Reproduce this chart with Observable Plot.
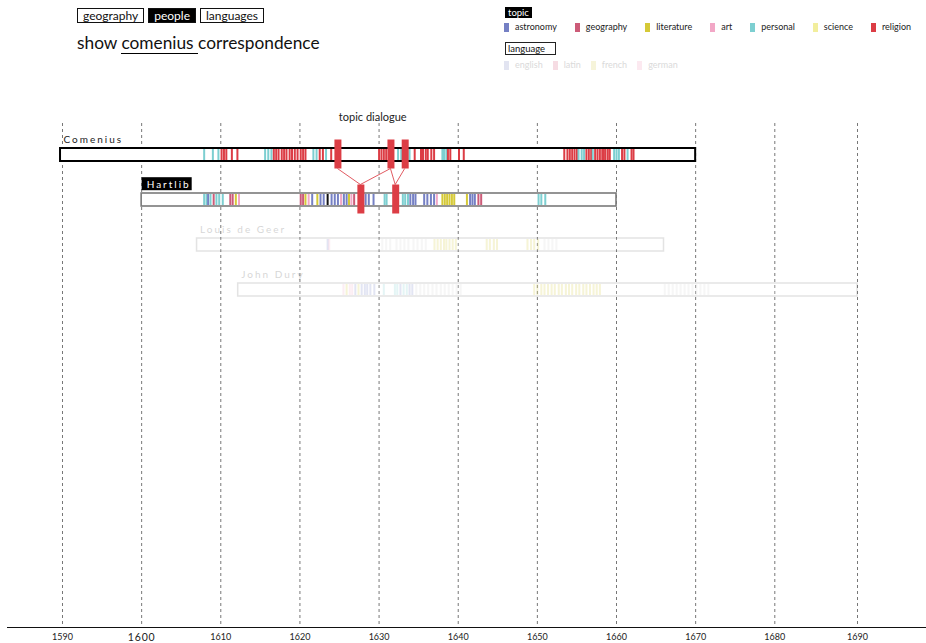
<!DOCTYPE html>
<html>
<head>
<meta charset="utf-8">
<script src="https://cdn.jsdelivr.net/npm/d3@7"></script>
<script src="https://cdn.jsdelivr.net/npm/@observablehq/plot@0.6"></script>
<style>
  body { margin: 0; background: #fff; font-family: Lato, "Open Sans", sans-serif; color: #111; }
  #wrap { position: relative; width: 926px; height: 643px; overflow: hidden; }
  #chart { position: absolute; left: 0; top: 0; }
  #buttons { position: absolute; left: 77px; top: 8px; display: flex; gap: 4px; }
  .btn { box-sizing: border-box; height: 15px; border: 1px solid #111; padding: 0 5px; font-size: 12px; line-height: 13px; color: #111; background: #fff; }
  .btn.on { background: #000; color: #fff; }
  #title { position: absolute; left: 77px; top: 33px; font-size: 17.3px; line-height: 20px; color: #111; white-space: pre; }
  #title .pick { border-bottom: 1.3px solid #000; }
  .hdr { position: absolute; left: 505px; font-size: 9.5px; line-height: 11px; padding: 0 3px; box-sizing: border-box; }
  #topicHdr { top: 7px; height: 11px; background: #000; color: #fff; }
  #langHdr { top: 42px; height: 13px; border: 1px solid #222; color: #111; font-size: 9.5px; width: 51px; padding: 0 2px; line-height: 11px; }
  .legrow { position: absolute; left: 504px; display: flex; gap: 18px; font-size: 9px; line-height: 10px; }
  .legrow .item { display: flex; align-items: center; white-space: nowrap; }
  .legrow .sw { display: inline-block; width: 5px; height: 9px; margin-right: 6px; }
  #topicRow { top: 22px; color: #222; }
  #langRow { top: 60px; gap: 10px; color: #dadada; }
</style>
</head>
<body>
<div id="wrap">
  <div id="chart"></div>
  <div id="buttons"></div>
  <div id="title"></div>
  <div id="topicHdr" class="hdr">topic</div>
  <div id="topicRow" class="legrow"></div>
  <div id="langHdr" class="hdr">language</div>
  <div id="langRow" class="legrow"></div>
</div>
<script>
// ---------- data ----------
const views = ["geography", "people", "languages"];
const activeView = "people";
const titleParts = ["show ", "comenius", " correspondence"];

const topics = ["astronomy", "geography", "literature", "art", "personal", "science", "religion"];
const topicColors = ["#7580c4", "#cc5b78", "#d5c937", "#f2a7c6", "#7dcfd1", "#f2ee9d", "#dc3d45"];
const languages = ["english", "latin", "french", "german"];
const languageColors = ["#e2e4f1", "#f6dce3", "#f6f4da", "#fce9f0"];

const people = ["Comenius", "Hartlib", "Louis de Geer", "John Dury"];
const spanStart = [1589.75, 1600, 1607, 1612.2];
const spanEnd = [1670, 1660, 1666, 1690];
const focusPeople = ["Comenius", "Hartlib"];

const decades = [1590, 1600, 1610, 1620, 1630, 1640, 1650, 1660, 1670, 1680, 1690];

const comeniusLetters = [
  [1607.9,"personal"],[1609.0,"personal"],[1609.7,"personal"],
  [1610.1,"religion"],[1610.4,"religion"],[1610.7,"religion"],[1611.4,"religion"],[1612.1,"religion"],
  [1615.6,"personal"],[1616.0,"personal"],[1616.4,"personal"],
  [1616.7,"religion"],[1617.0,"religion"],[1617.3,"religion"],[1617.7,"religion"],[1618.0,"religion"],
  [1618.3,"religion"],[1618.7,"religion"],[1619.0,"religion"],[1619.35,"religion"],[1619.7,"religion"],
  [1620.1,"religion"],[1620.4,"religion"],[1620.7,"religion"],
  [1621.7,"personal"],[1622.1,"personal"],[1622.5,"religion"],[1622.9,"religion"],[1623.3,"personal"],[1623.95,"religion"],
  [1630.0,"religion"],[1630.3,"religion"],[1630.6,"religion"],[1630.9,"religion"],
  [1632.4,"personal"],[1632.8,"personal"],[1633.85,"personal"],
  [1634.5,"religion"],[1635.3,"religion"],[1635.55,"religion"],[1635.9,"religion"],[1636.15,"religion"],[1636.6,"religion"],[1636.95,"religion"],
  [1638.0,"personal"],[1638.2,"personal"],[1638.5,"personal"],
  [1638.7,"religion"],[1639.0,"religion"],[1640.1,"religion"],[1640.7,"religion"],
  [1653.4,"religion"],[1653.8,"religion"],[1654.1,"religion"],[1654.4,"religion"],[1654.7,"religion"],[1655.0,"religion"],
  [1655.2,"personal"],[1655.6,"personal"],[1655.9,"personal"],
  [1656.2,"religion"],[1656.5,"religion"],[1656.8,"religion"],[1657.0,"personal"],
  [1657.3,"religion"],[1657.6,"religion"],[1657.9,"religion"],[1658.2,"religion"],[1658.4,"religion"],
  [1658.6,"religion"],[1658.9,"religion"],[1659.15,"religion"],
  [1659.7,"personal"],[1660.0,"personal"],[1660.3,"personal"],
  [1660.7,"religion"],[1661.0,"religion"],[1661.4,"personal"],[1661.9,"religion"],[1662.15,"religion"]
];

const hartlibLetters = [
  [1607.9,"personal"],[1608.2,"personal"],[1608.4,"astronomy"],[1608.7,"personal"],[1609.1,"geography"],
  [1609.45,"personal"],[1609.8,"personal"],[1610.25,"personal"],
  [1611.2,"geography"],[1611.5,"geography"],[1611.9,"literature"],[1612.3,"art"],
  [1620.1,"geography"],[1620.4,"geography"],[1620.7,"literature"],[1621.1,"art"],[1621.55,"astronomy"],
  [1622.2,"literature"],[1622.6,"astronomy"],[1623.0,"astronomy"],[1623.5,"other"],
  [1624.0,"astronomy"],[1624.4,"astronomy"],[1624.8,"astronomy"],[1625.2,"art"],[1625.55,"astronomy"],
  [1625.9,"astronomy"],[1626.2,"literature"],[1626.5,"art"],[1626.85,"geography"],
  [1628.3,"astronomy"],[1628.7,"astronomy"],[1629.3,"astronomy"],[1630.7,"personal"],[1630.95,"personal"],
  [1633.0,"personal"],[1633.3,"personal"],[1633.65,"personal"],
  [1633.95,"astronomy"],[1634.3,"astronomy"],[1634.6,"astronomy"],
  [1635.7,"astronomy"],[1636.1,"astronomy"],[1636.55,"astronomy"],[1636.95,"astronomy"],[1637.3,"art"],
  [1638.0,"literature"],[1638.3,"literature"],[1638.6,"literature"],[1638.9,"literature"],[1639.2,"literature"],[1639.5,"literature"],
  [1641.1,"literature"],[1641.5,"astronomy"],[1641.8,"astronomy"],[1642.1,"astronomy"],
  [1642.55,"geography"],[1642.9,"geography"],
  [1650.15,"personal"],[1650.5,"personal"],[1651.0,"personal"]
];

const geerLetters = [
  [1623.5,"astronomy"],[1623.7,"art"],
  [1630.4,"blank"],[1630.9,"blank"],[1631.4,"blank"],[1632.2,"blank"],[1632.7,"blank"],[1633.2,"blank"],
  [1633.7,"blank"],[1634.35,"blank"],[1634.85,"blank"],[1635.4,"blank"],[1635.9,"blank"],
  [1637.0,"literature"],[1637.4,"literature"],[1637.8,"literature"],[1638.2,"literature"],
  [1638.5,"literature"],[1638.9,"literature"],[1639.3,"literature"],[1639.7,"literature"],
  [1643.6,"literature"],[1644.0,"literature"],[1644.5,"literature"],[1644.9,"literature"],
  [1648.75,"literature"],[1649.2,"literature"],[1649.6,"literature"],[1650.1,"literature"],
  [1650.9,"blank"],[1651.4,"blank"],[1651.9,"blank"],[1652.4,"blank"]
];

const duryLetters = [
  [1625.5,"art"],[1625.9,"literature"],[1626.3,"art"],[1626.6,"art"],[1627.0,"astronomy"],[1627.4,"literature"],
  [1627.8,"astronomy"],[1628.2,"astronomy"],[1628.5,"astronomy"],[1628.9,"astronomy"],[1629.4,"astronomy"],
  [1630.6,"personal"],[1632.0,"personal"],[1632.3,"personal"],[1632.7,"astronomy"],[1633.1,"personal"],
  [1633.5,"personal"],[1633.85,"astronomy"],[1634.2,"astronomy"],
  [1634.7,"blank"],[1635.2,"blank"],[1635.7,"blank"],[1636.2,"blank"],[1636.75,"blank"],[1637.25,"blank"],
  [1637.8,"blank"],[1638.3,"blank"],[1638.8,"blank"],[1639.3,"blank"],[1639.8,"blank"],[1640.3,"blank"],
  [1649.6,"literature"],[1650.0,"literature"],[1650.5,"literature"],[1650.9,"literature"],[1651.35,"literature"],
  [1651.8,"literature"],[1652.2,"literature"],[1652.7,"literature"],[1653.1,"literature"],[1653.6,"literature"],
  [1654.0,"literature"],[1654.4,"literature"],[1654.9,"literature"],[1655.3,"literature"],[1655.8,"literature"],
  [1656.2,"literature"],[1656.65,"literature"],[1657.1,"literature"],[1657.5,"literature"],[1657.9,"literature"],
  [1666.1,"blank"],[1666.6,"blank"],[1667.1,"blank"],[1667.6,"blank"],[1668.1,"blank"],[1668.6,"blank"],
  [1669.1,"blank"],[1669.6,"blank"],[1670.1,"blank"],[1670.6,"blank"],[1671.1,"blank"],[1671.6,"blank"]
];

// topic dialogue between Comenius and Hartlib (religion letters)
const dialogueComenius = [1624.8, 1631.5, 1633.3];
const dialogueHartlib = [1627.7, 1632.1];
const dialogueLinks = [[1624.8, 1627.7], [1631.5, 1627.7], [1631.5, 1632.1], [1633.3, 1632.1]];
const dialogueTopic = "religion";
const annotationLabel = "topic dialogue";
const annotationYear = 1629.2;

// ---------- build tables ----------
const lettersByPerson = {"Comenius": comeniusLetters, "Hartlib": hartlibLetters, "Louis de Geer": geerLetters, "John Dury": duryLetters};
const letters = [];
for (const [person, arr] of Object.entries(lettersByPerson))
  for (const [year, topic] of arr) letters.push({person, year, topic, focus: focusPeople.includes(person)});
const rows = people.map((name, i) => ({name, start: spanStart[i], end: spanEnd[i], focus: focusPeople.includes(name)}));
const dialogue = [
  ...dialogueComenius.map(year => ({person: "Comenius", year, topic: dialogueTopic})),
  ...dialogueHartlib.map(year => ({person: "Hartlib", year, topic: dialogueTopic}))
];

const HL_TOP = 8.5, HL_BOTTOM = 7.5;
const religionColor = topicColors[topics.indexOf(dialogueTopic)];

const linkMark = (index, scales) => {
  const {x, y} = scales;
  const bw = y.bandwidth();
  const g = d3.create("svg:g").attr("stroke", religionColor).attr("stroke-opacity", 0.85).attr("stroke-width", 1);
  for (const [a, b] of dialogueLinks) {
    g.append("line")
      .attr("x1", x(a)).attr("y1", y("Comenius") + bw + HL_BOTTOM)
      .attr("x2", x(b)).attr("y2", y("Hartlib") - HL_TOP);
  }
  return g.node();
};

const labelOpts = {x: "start", y: "name", text: "name", textAnchor: "start", dx: 3, dy: -15.5, fontSize: 10};

const chart = Plot.plot({
  width: 926,
  height: 643,
  marginTop: 123,
  marginBottom: 16,
  marginLeft: 7,
  marginRight: 0,
  style: {fontFamily: "Lato, sans-serif", background: "transparent", color: "#222"},
  x: {type: "linear", domain: [1590, 1680, 1690], range: [62, 774.3, 857], axis: null},
  y: {type: "band", domain: people, range: [147, 296], paddingInner: 0.7132, paddingOuter: 0, axis: null},
  color: {type: "ordinal", domain: [...topics, "other", "blank"], range: [...topicColors, "#111", "#d4d4d4"]},
  marks: [
    Plot.ruleX(decades, {stroke: "#777", strokeDasharray: "3,3", strokeWidth: 1}),
    Plot.frame({anchor: "bottom", stroke: "#111"}),
    Plot.axisX(decades, {tickSize: 0, tickPadding: 6, fontSize: 9, tickFormat: d => `${d}`}),
    linkMark,
    // faded people
    Plot.barX(rows.filter(d => !d.focus), {x1: "start", x2: "end", y: "name", fill: "#fff", stroke: "#777", strokeWidth: 1.5, opacity: 0.2}),
    Plot.tickX(letters.filter(d => !d.focus), {x: "year", y: "person", stroke: "topic", strokeWidth: 2, insetTop: 1, insetBottom: 1, opacity: 0.2}),
    Plot.text(rows.filter(d => !d.focus), {...labelOpts, fill: "#333", opacity: 0.2}),
    // focus people
    Plot.barX(rows.filter(d => d.name === "Comenius"), {x1: "start", x2: "end", y: "name", fill: "#fff", stroke: "#000", strokeWidth: 2}),
    Plot.barX(rows.filter(d => d.name === "Hartlib"), {x1: "start", x2: "end", y: "name", fill: "#fff", stroke: "#7a7a7a", strokeWidth: 1.6}),
    Plot.tickX(letters.filter(d => d.focus), {x: "year", y: "person", stroke: "topic", strokeWidth: 2, insetTop: 1, insetBottom: 1}),
    Plot.tickX(dialogue, {x: "year", y: "person", stroke: "topic", strokeWidth: 7, insetTop: -HL_TOP, insetBottom: -HL_BOTTOM}),
    Plot.text(rows.filter(d => d.name === "Comenius"), {...labelOpts, fill: "#222"}),
    Plot.text(rows.filter(d => d.name === "Hartlib"), {...labelOpts, dx: 5, fill: "#fff"}),
    Plot.text([annotationLabel], {x: () => annotationYear, text: d => d, frameAnchor: "top", dy: -10, fontSize: 11, fill: "#222"})
  ]
});

document.getElementById("chart").append(chart);

// letter-spaced person labels and Hartlib label box
const svg = d3.select(chart);
svg.selectAll("text").filter(function () { return people.includes(this.textContent); })
  .attr("letter-spacing", "2px");
svg.selectAll("text").filter(function () { return this.textContent === "Hartlib"; }).each(function () {
  const b = this.getBBox();
  d3.select(this.parentNode).insert("rect", () => this)
    .attr("transform", this.getAttribute("transform"))
    .attr("x", b.x - 5).attr("y", b.y - 0.5)
    .attr("width", b.width + 6).attr("height", b.height + 1)
    .attr("fill", "#000").attr("stroke", "none");
});
svg.selectAll("text").filter(function () { return this.textContent === "1600"; })
  .attr("font-size", 10.5).attr("letter-spacing", "0.8px");

// ---------- HTML controls & legends ----------
const btnBox = d3.select("#buttons");
for (const v of views) btnBox.append("div").attr("class", "btn" + (v === activeView ? " on" : "")).text(v);

const title = d3.select("#title");
title.append("span").text(titleParts[0]);
title.append("span").attr("class", "pick").text(titleParts[1] + " ");
title.append("span").text(titleParts[2].trimStart());

const topicRow = d3.select("#topicRow");
topics.forEach((t, i) => {
  const it = topicRow.append("div").attr("class", "item");
  it.append("span").attr("class", "sw").style("background", topicColors[i]);
  it.append("span").text(t);
});
const langRow = d3.select("#langRow");
languages.forEach((t, i) => {
  const it = langRow.append("div").attr("class", "item");
  it.append("span").attr("class", "sw").style("background", languageColors[i]);
  it.append("span").text(t);
});
</script>
</body>
</html>
